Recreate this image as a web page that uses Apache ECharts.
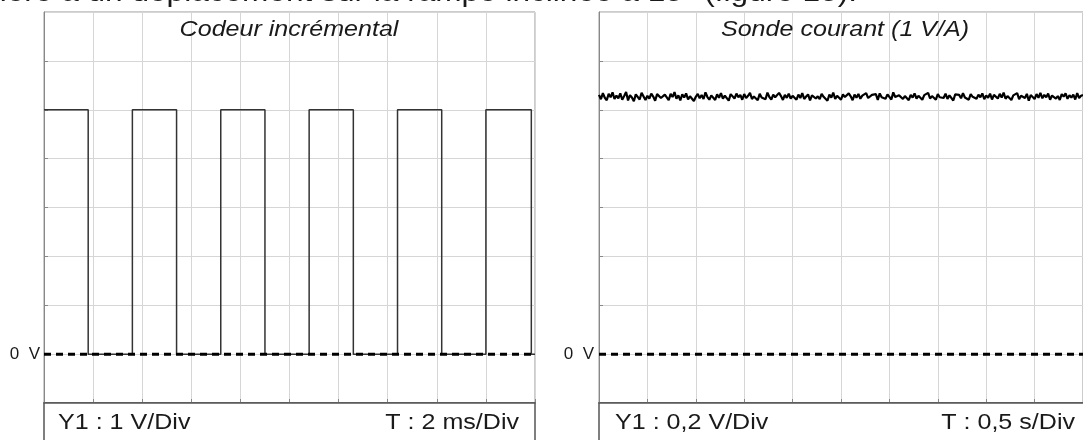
<!DOCTYPE html>
<html>
<head>
<meta charset="utf-8">
<script src="https://cdn.jsdelivr.net/npm/echarts@6/dist/echarts.min.js"></script>
<style>
html,body{margin:0;padding:0;background:#fff;}
#chart{width:1083px;height:440px;}
</style>
</head>
<body>
<div id="chart"></div>
<script>
// ---- Data ----
const leftTitle = 'Codeur incrémental';
const rightTitle = 'Sonde courant (1 V/A)';
const leftScaleText = ['Y1 : 1 V/Div', 'T : 2 ms/Div'];
const rightScaleText = ['Y1 : 0,2 V/Div', 'T : 0,5 s/Div'];
const headerText = 'ière à un déplacement sur la rampe inclinée à 15° (figure 15).';

// Encoder square wave: times of level changes (ms) and level after each time (V)
const encoderEdgesMs = [0, 1.8, 3.6, 5.4, 7.2, 9.0, 10.8, 12.6, 14.4, 16.2, 18.0, 19.85, 20];
const encoderLevelsV = [5, 0, 5, 0, 5, 0, 5, 0, 5, 0, 5, 0, 0];

// Current probe trace (V), sampled every 0.02 s from 0 to 5 s
const probeStepS = 0.02;
const probeValuesV = [
1.061,1.043,1.068,1.049,1.039,1.065,1.051,1.071,1.044,1.058,
1.047,1.067,1.041,1.056,1.073,1.038,1.060,1.050,1.035,1.063,
1.055,1.042,1.069,1.062,1.040,1.057,1.046,1.066,1.054,1.037,
1.064,1.070,1.048,1.041,1.062,1.056,1.039,1.065,1.052,1.072,
1.045,1.059,1.038,1.063,1.050,1.067,1.042,1.055,1.061,1.036,
1.053,1.065,1.047,1.060,1.044,1.071,1.052,1.041,1.059,1.057,
1.040,1.063,1.049,1.068,1.045,1.058,1.054,1.037,1.064,1.056,
1.046,1.066,1.051,1.061,1.041,1.064,1.048,1.057,1.069,1.044,
1.054,1.060,1.039,1.065,1.050,1.058,1.043,1.070,1.052,1.042,
1.062,1.051,1.045,1.069,1.056,1.040,1.061,1.049,1.066,1.046,
1.057,1.064,1.041,1.062,1.048,1.068,1.044,1.054,1.063,1.038,
1.059,1.066,1.046,1.055,1.043,1.065,1.053,1.060,1.037,1.062,
1.050,1.070,1.044,1.057,1.061,1.041,1.063,1.052,1.047,1.067,
1.055,1.039,1.062,1.049,1.065,1.045,1.058,1.054,1.068,1.048,
1.043,1.061,1.055,1.064,1.040,1.067,1.051,1.057,1.045,1.063,
1.060,1.042,1.071,1.052,1.047,1.059,1.065,1.044,1.056,1.062,
1.039,1.061,1.050,1.067,1.046,1.057,1.063,1.041,1.060,1.053,
1.069,1.046,1.056,1.062,1.041,1.064,1.051,1.059,1.048,1.066,
1.044,1.059,1.052,1.038,1.063,1.055,1.061,1.047,1.068,1.050,
1.057,1.041,1.064,1.053,1.060,1.045,1.062,1.051,1.067,1.043,
1.058,1.049,1.066,1.042,1.061,1.054,1.046,1.065,1.050,1.070,
1.045,1.056,1.063,1.040,1.059,1.052,1.068,1.043,1.057,1.062,
1.048,1.065,1.037,1.060,1.055,1.044,1.064,1.049,1.069,1.047,
1.061,1.051,1.066,1.041,1.058,1.063,1.046,1.056,1.040,1.064,
1.054,1.067,1.045,1.059,1.050,1.062,1.042,1.068,1.048,1.057,
1.060
];

// Axis ranges
const leftX = {min: 0, max: 20, interval: 2};
const leftY = {min: -1, max: 7, interval: 1};
const rightX = {min: 0, max: 5, interval: 0.5};
const rightY = {min: -0.2, max: 1.4, interval: 0.2};

// ---- Build ----
const encoderData = encoderEdgesMs.map((t, i) => [t, encoderLevelsV[i]]);
const probeData = probeValuesV.map((v, i) => [+(i * probeStepS).toFixed(3), v]);

const FONT = '"Liberation Sans", Arial, sans-serif';
const gridColor = '#d6d6d6';

function xAxisCfg(idx, r) {
  return {
    type: 'value', gridIndex: idx, min: r.min, max: r.max, interval: r.interval,
    axisLine: {show: true, onZero: false, lineStyle: {color: '#555', width: 1.5}},
    axisTick: {show: true, inside: true, length: 4, lineStyle: {color: '#888'}},
    axisLabel: {show: false},
    splitLine: {show: true, lineStyle: {color: gridColor, width: 1}}
  };
}
function yAxisCfg(idx, r, margin) {
  return {
    type: 'value', gridIndex: idx, min: r.min, max: r.max, interval: r.interval,
    axisLine: {show: true, onZero: false, lineStyle: {color: '#888', width: 1}},
    axisTick: {show: true, inside: true, length: 4, lineStyle: {color: '#888'}},
    axisLabel: {
      show: true, margin: margin, fontSize: 17, fontFamily: FONT, color: '#1a1a1a',
      showMinLabel: false, showMaxLabel: false,
      formatter: v => (Math.abs(v) < 1e-9 ? '0  V' : '')
    },
    splitLine: {show: true, lineStyle: {color: gridColor, width: 1}}
  };
}

function txt(x, y, text, opts) {
  return {
    type: 'text', x: x, y: y, scaleX: opts.scaleX || 1, z: 100,
    style: {
      text: text, fill: '#1a1a1a',
      font: (opts.italic ? 'italic ' : '') + opts.size + 'px ' + FONT,
      align: opts.align || 'left', textAlign: opts.align || 'left',
      verticalAlign: opts.valign || 'middle', textVerticalAlign: opts.valign || 'middle'
    }
  };
}

const zeroDash = {type: [7, 5], width: 3, color: '#000'};

const option = {
  animation: false,
  backgroundColor: '#fff',
  grid: [
    {left: 44, top: 12, width: 491, height: 391, show: true, borderColor: '#999', borderWidth: 1},
    {left: 599, top: 12, width: 492, height: 391, show: true, borderColor: '#999', borderWidth: 1}
  ],
  xAxis: [xAxisCfg(0, leftX), xAxisCfg(1, rightX)],
  yAxis: [yAxisCfg(0, leftY, 4), yAxisCfg(1, rightY, 5)],
  series: [
    {
      type: 'line', xAxisIndex: 0, yAxisIndex: 0, data: encoderData, step: 'end',
      showSymbol: false, symbol: 'none', z: 2,
      lineStyle: {color: '#333', width: 1.5}
    },
    {
      type: 'line', xAxisIndex: 0, yAxisIndex: 0, data: [[leftX.min, 0], [leftX.max, 0]],
      showSymbol: false, symbol: 'none', z: 3, lineStyle: zeroDash
    },
    {
      type: 'line', xAxisIndex: 1, yAxisIndex: 1, data: probeData,
      showSymbol: false, symbol: 'none', z: 2,
      lineStyle: {color: '#000', width: 2.2}
    },
    {
      type: 'line', xAxisIndex: 1, yAxisIndex: 1, data: [[rightX.min, 0], [rightX.max, 0]],
      showSymbol: false, symbol: 'none', z: 3, lineStyle: zeroDash
    }
  ],
  graphic: [
    {type: 'rect', shape: {x: 44, y: 403, width: 491, height: 60}, z: 50,
     style: {fill: '#fff', stroke: '#555', lineWidth: 1.5}},
    {type: 'rect', shape: {x: 599, y: 403, width: 492, height: 60}, z: 50,
     style: {fill: '#fff', stroke: '#555', lineWidth: 1.5}},
    txt(289, 30, leftTitle, {size: 22, italic: true, align: 'center', scaleX: 1.14}),
    txt(845, 30, rightTitle, {size: 22, italic: true, align: 'center', scaleX: 1.14}),
    txt(58, 423, leftScaleText[0], {size: 22, scaleX: 1.14}),
    txt(519, 423, leftScaleText[1], {size: 22, align: 'right', scaleX: 1.14}),
    txt(615, 423, rightScaleText[0], {size: 22, scaleX: 1.14}),
    txt(1075, 423, rightScaleText[1], {size: 22, align: 'right', scaleX: 1.14}),
    txt(857, 7, headerText, {size: 27, align: 'right', valign: 'bottom', scaleX: 1.17})
  ]
};

const chart = echarts.init(document.getElementById('chart'), null, {renderer: 'canvas'});
chart.setOption(option);
</script>
</body>
</html>
